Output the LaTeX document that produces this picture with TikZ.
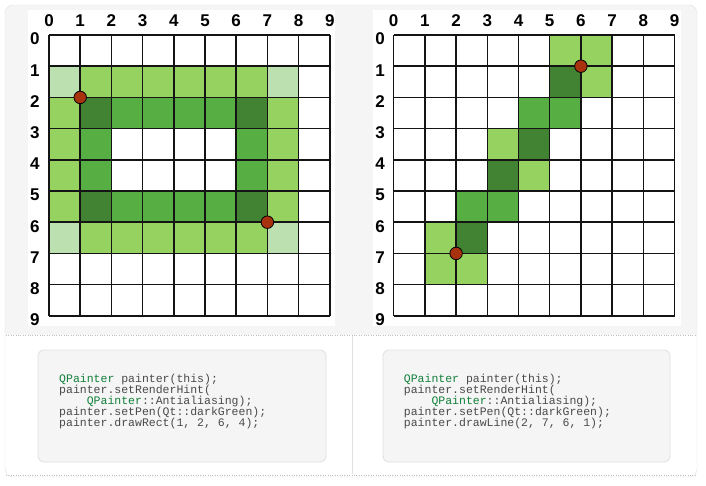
\documentclass[tikz,border=0pt]{standalone}
\usepackage{fontspec}
\setmainfont{Liberation Sans}
\newfontfamily\codefont{Liberation Mono}
\usepackage{xcolor}
\usepackage{tikz}
\usetikzlibrary{positioning}

\definecolor{panelgrey}{HTML}{F5F5F5}
\definecolor{panelline}{HTML}{E0E0E0}
\definecolor{palegreen}{HTML}{BDE0B0}
\definecolor{litegreen}{HTML}{95D25F}
\definecolor{midgreen}{HTML}{57AE43}
\definecolor{darkgreen}{HTML}{418332}
\definecolor{pixdot}{HTML}{A8320E}
\definecolor{codegrey}{HTML}{4A4A4A}
\definecolor{codegreen}{HTML}{12803A}

\newcommand{\qp}{\textcolor{codegreen}{QPainter}}

\tikzset{
    gridline/.style={line width=1.5pt, color=black!92},
    collabel/.style={font=\fontsize{17}{20}\selectfont\bfseries, inner sep=0pt},
    rowlabel/.style={collabel},
    pixel/.style={circle, fill=pixdot, draw=black, line width=0.8pt, minimum size=12.5pt, inner sep=0pt},
    codebox/.style={fill=panelgrey, draw=panelline, line width=0.8pt, rounded corners=6pt},
    codetext/.style={font=\codefont\fontsize{11.5}{11}\selectfont, text=codegrey, align=left, inner sep=0pt, anchor=base west,
        execute at begin node={\setlength{\baselineskip}{11pt}}},
}

\begin{document}
\begin{tikzpicture}[x=1pt, y=-1pt]
    \useasboundingbox (0,0) rectangle (706,485);

    % panel
    \begin{scope}
        \clip[rounded corners=8pt] (5,5) rectangle (697,477);
        \fill[panelgrey] (5,5) rectangle (697,335);
        \fill[white] (5,335) rectangle (697,477);
    \end{scope}
    \draw[panelline, rounded corners=8pt] (5,5) rectangle (697,477);
    \draw[black!25, dotted] (6,335) -- (696,335);
    \draw[black!25, dotted] (6,475) -- (696,475);
    \draw[panelline] (352,336) -- (352,474);

    % white backgrounds behind the grids
    \fill[white] (28,10) rectangle (335,326);
    \fill[white] (373,10) rectangle (681,326);

    % left grid: drawRect
    \begin{scope}[shift={(49,35)}, x=31.2pt, y=-31.2pt]
        \foreach \c/\r in {0/1,7/1,0/6,7/6}
            \fill[palegreen] (\c,\r) rectangle ++(1,1);
        \foreach \c in {1,...,6} {
            \fill[litegreen] (\c,1) rectangle ++(1,1);
            \fill[litegreen] (\c,6) rectangle ++(1,1);
        }
        \foreach \r in {2,...,5} {
            \fill[litegreen] (0,\r) rectangle ++(1,1);
            \fill[litegreen] (7,\r) rectangle ++(1,1);
        }
        \foreach \c/\r in {2/2,3/2,4/2,5/2,2/5,3/5,4/5,5/5,1/3,1/4,6/3,6/4}
            \fill[midgreen] (\c,\r) rectangle ++(1,1);
        \foreach \c/\r in {1/2,6/2,1/5,6/5}
            \fill[darkgreen] (\c,\r) rectangle ++(1,1);
        \foreach \i in {0,...,9} {
            \draw[gridline] (\i,0) -- (\i,9);
            \draw[gridline] (0,\i) -- (9,\i);
            \node[collabel] (lc\i) at (\i,-0.45) {\i};
            \node[rowlabel] (lr\i) at (-0.45,\i+0.13) {\i};
        }
        \node[pixel] (lstart) at (1,2) {};
        \node[pixel] (lend) at (7,6) {};
    \end{scope}

    % right grid: drawLine
    \begin{scope}[shift={(393.7,35)}, x=31.2pt, y=-31.2pt]
        \foreach \c/\r in {5/0,6/0,6/1,3/3,4/4,1/6,1/7,2/7}
            \fill[litegreen] (\c,\r) rectangle ++(1,1);
        \foreach \c/\r in {4/2,5/2,2/5,3/5}
            \fill[midgreen] (\c,\r) rectangle ++(1,1);
        \foreach \c/\r in {5/1,4/3,3/4,2/6}
            \fill[darkgreen] (\c,\r) rectangle ++(1,1);
        \foreach \i in {0,...,9} {
            \draw[gridline] (\i,0) -- (\i,9);
            \draw[gridline] (0,\i) -- (9,\i);
            \node[collabel] (rc\i) at (\i,-0.45) {\i};
            \node[rowlabel] (rr\i) at (-0.44,\i+0.13) {\i};
        }
        \node[pixel] (rstart) at (2,7) {};
        \node[pixel] (rend) at (6,1) {};
    \end{scope}

    % code (node base = last line)
    \draw[codebox] (38,350) rectangle (326,462);
    \draw[codebox] (383,350) rectangle (670,462);
    \node[codetext] (rectcode) at (59,426) {\qp{} painter(this);\\
        painter.setRenderHint(\\
        \phantom{xxxx}\qp::Antialiasing);\\
        painter.setPen(Qt::darkGreen);\\
        painter.drawRect(1, 2, 6, 4);};
    \node[codetext] (linecode) at (403.7,426) {\qp{} painter(this);\\
        painter.setRenderHint(\\
        \phantom{xxxx}\qp::Antialiasing);\\
        painter.setPen(Qt::darkGreen);\\
        painter.drawLine(2, 7, 6, 1);};
\end{tikzpicture}
\end{document}
